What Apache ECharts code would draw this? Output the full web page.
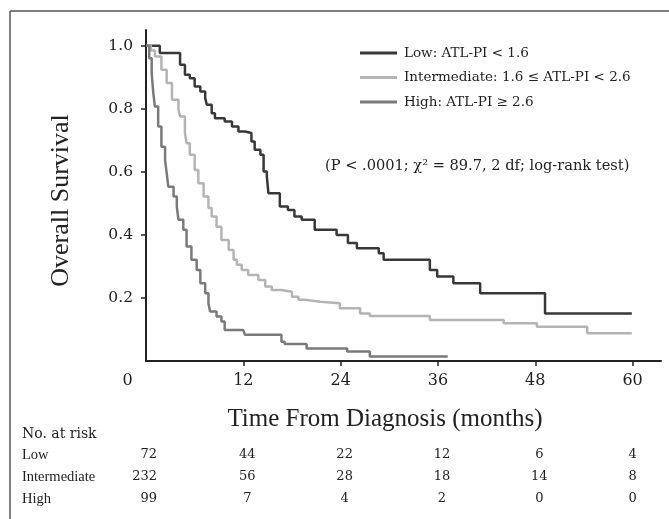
<!DOCTYPE html>
<html>
<head>
<meta charset="utf-8">
<script src="https://cdn.jsdelivr.net/npm/echarts@6/dist/echarts.min.js"></script>
<style>
html,body{margin:0;padding:0;background:#fff;}
#c{width:669px;height:519px;}
</style>
</head>
<body>
<div id="c"></div>
<script>
// Kaplan-Meier points [months, survival] (step 'end')
var lowCurve = [[0,1.0],[1.7,0.977],[4.2,0.94],[4.8,0.908],[5.4,0.897],[6.0,0.871],[6.7,0.855],[7.3,0.834],[7.5,0.813],[8.1,0.786],[8.5,0.770],[9.7,0.760],[10.6,0.744],[11.4,0.728],[12.2,0.723],[13.0,0.696],[13.4,0.670],[14.1,0.654],[14.5,0.601],[14.9,0.585],[15.1,0.532],[16.5,0.490],[17.5,0.479],[18.3,0.458],[19.2,0.448],[20.8,0.416],[23.5,0.400],[24.9,0.374],[26.0,0.358],[28.7,0.342],[29.3,0.321],[35.0,0.289],[35.9,0.268],[37.9,0.247],[41.2,0.215],[49.2,0.151],[59.9,0.151]];
var intCurve = [[0,1.0],[0.6,0.985],[1.1,0.966],[1.9,0.924],[2.55,0.882],[3.2,0.829],[4.0,0.797],[4.2,0.776],[4.8,0.723],[5.0,0.691],[5.4,0.654],[6.0,0.606],[6.45,0.564],[7.1,0.522],[7.7,0.485],[8.1,0.458],[8.7,0.426],[9.3,0.384],[10.2,0.352],[10.8,0.321],[11.2,0.305],[11.8,0.289],[12.6,0.273],[13.85,0.257],[14.7,0.236],[15.5,0.225],[16.7,0.220],[18.0,0.204],[18.8,0.194],[19.6,0.188],[21.5,0.183],[23.9,0.167],[26.4,0.151],[27.6,0.143],[35.0,0.130],[44.1,0.120],[48.2,0.109],[54.4,0.088],[59.9,0.088]];
var highCurve = [[0,1.0],[0.4,0.96],[0.7,0.913],[0.9,0.850],[1.1,0.807],[1.5,0.744],[1.9,0.680],[2.35,0.638],[2.55,0.596],[2.75,0.553],[3.4,0.522],[3.8,0.490],[4.0,0.448],[4.6,0.416],[5.0,0.363],[5.6,0.321],[6.25,0.289],[6.7,0.247],[7.3,0.215],[7.7,0.183],[7.9,0.157],[8.7,0.141],[9.3,0.125],[9.7,0.098],[12.0,0.093],[12.2,0.083],[16.7,0.061],[17.1,0.054],[19.8,0.040],[24.8,0.030],[27.6,0.014],[37.2,0.014]];

var seriesNames = ['Low: ATL-PI < 1.6', 'Intermediate: 1.6 \u2264 ATL-PI < 2.6', 'High: ATL-PI \u2265 2.6'];
var xTicks = [0, 12, 24, 36, 48, 60];
var yTicks = [0.2, 0.4, 0.6, 0.8, 1.0];

var riskLabels = ['Low', 'Intermediate', 'High'];
var riskLow = [72, 44, 22, 12, 6, 4];
var riskInt = [232, 56, 28, 18, 14, 8];
var riskHigh = [99, 7, 4, 2, 0, 0];

var pText = '(P < .0001; \u03c7\u00b2 = 89.7, 2 df; log-rank test)';

var SERIF = '"Liberation Serif", "DejaVu Serif", serif';
var WIDE = '"DejaVu Serif", "Liberation Serif", serif';
var colors = ['#383838', '#b4b4b4', '#7a7a7a'];

var chart = echarts.init(document.getElementById('c'), null, {renderer: 'canvas'});

var option = {
  animation: false,
  backgroundColor: '#fff',
  grid: {left: 146, right: 8, top: 30, bottom: 158, containLabel: false},
  legend: {
    orient: 'vertical', left: 355, top: 40,
    itemWidth: 37, itemHeight: 3, itemGap: 8.5, icon: 'rect',
    textStyle: {fontFamily: WIDE, fontSize: 13.5, color: '#222', lineHeight: 16, padding: [0, 0, 0, 2]},
    data: seriesNames
  },
  xAxis: {
    type: 'value', min: 0, max: 63.5, interval: 12,
    axisLine: {show: true, onZero: false, lineStyle: {color: '#222', width: 2}},
    axisTick: {show: true, length: 5, inside: false, customValues: [12, 24, 36, 48, 60], lineStyle: {color: '#222', width: 1.5}},
    axisLabel: {
      customValues: xTicks, margin: 12,
      fontFamily: WIDE, fontSize: 16, color: '#222',
      formatter: function (v) { return v === 0 ? '{z|0}' : String(v); },
      rich: {z: {fontFamily: WIDE, fontSize: 16, color: '#222', padding: [0, 37, 0, 0]}}
    },
    splitLine: {show: false},
    name: 'Time From Diagnosis (months)', nameLocation: 'middle', nameGap: 46,
    nameTextStyle: {fontFamily: SERIF, fontSize: 25, color: '#222', padding: [0, 37, 0, 0]}
  },
  yAxis: {
    type: 'value', min: 0, max: 1.05, interval: 0.2,
    axisLine: {show: true, lineStyle: {color: '#222', width: 2}},
    axisTick: {show: true, length: 5, customValues: yTicks, lineStyle: {color: '#222', width: 1.5}},
    axisLabel: {
      customValues: yTicks, margin: 13,
      fontFamily: WIDE, fontSize: 15.5, color: '#222',
      formatter: function (v) { return v.toFixed(1); }
    },
    splitLine: {show: false},
    name: 'Overall Survival', nameLocation: 'middle', nameGap: 72, nameRotate: 90,
    nameTextStyle: {fontFamily: SERIF, fontSize: 26, color: '#222', padding: [0, 10, 0, 0]}
  },
  series: [
    {name: seriesNames[0], type: 'line', step: 'end', data: lowCurve, showSymbol: false, symbol: 'none',
     lineStyle: {color: colors[0], width: 2.5}, itemStyle: {color: colors[0]}},
    {name: seriesNames[1], type: 'line', step: 'end', data: intCurve, showSymbol: false, symbol: 'none',
     lineStyle: {color: colors[1], width: 2.5}, itemStyle: {color: colors[1]}},
    {name: seriesNames[2], type: 'line', step: 'end', data: highCurve, showSymbol: false, symbol: 'none',
     lineStyle: {color: colors[2], width: 2.5}, itemStyle: {color: colors[2]}}
  ]
};
chart.setOption(option);

// Graphics: frame, p-value text, risk table
function buildGraphics() {
  var els = [];
  els.push({type: 'line', shape: {x1: 10, y1: 11, x2: 669, y2: 11}, style: {stroke: '#555', lineWidth: 1.5}, silent: true});
  els.push({type: 'line', shape: {x1: 10, y1: 11, x2: 10, y2: 519}, style: {stroke: '#555', lineWidth: 1.5}, silent: true});
  els.push({type: 'text', x: 325, y: 166, style: {text: pText, font: '14.6px ' + WIDE, fill: '#222', textVerticalAlign: 'middle'}, silent: true});
  var rowsY = [434, 455, 477, 499];
  els.push({type: 'text', x: 22, y: rowsY[0], style: {text: 'No. at risk', font: '14px ' + WIDE, fill: '#222', textVerticalAlign: 'middle'}, silent: true});
  var rows = [riskLow, riskInt, riskHigh];
  for (var r = 0; r < 3; r++) {
    els.push({type: 'text', x: 22, y: rowsY[r + 1], style: {text: riskLabels[r], font: '14.5px ' + SERIF, fill: '#222', textVerticalAlign: 'middle'}, silent: true});
    for (var c = 0; c < xTicks.length; c++) {
      var px = chart.convertToPixel({gridIndex: 0}, [xTicks[c], 0])[0];
      var isFirst = c === 0;
      var off = isFirst ? 11 : (c === xTicks.length - 1 ? 0 : 4);
      els.push({type: 'text', x: px + off, y: rowsY[r + 1],
        style: {text: String(rows[r][c]), font: '13px ' + WIDE, fill: '#222', textAlign: isFirst ? 'right' : 'center', textVerticalAlign: 'middle'}, silent: true});
    }
  }
  chart.setOption({graphic: els});
}
buildGraphics();
</script>
</body>
</html>
